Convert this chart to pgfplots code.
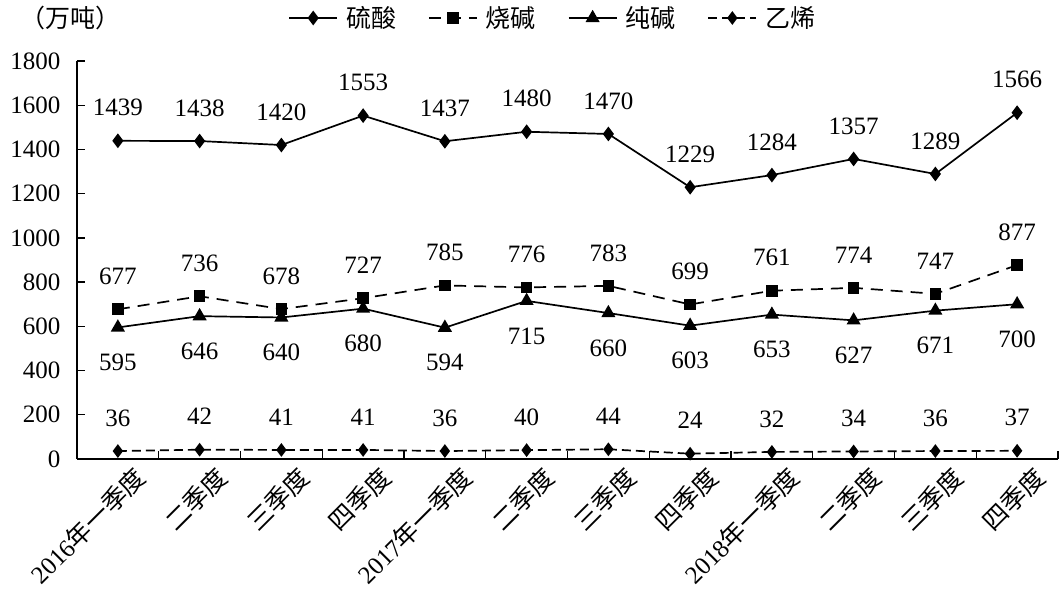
\documentclass[border=0pt]{standalone}
\usepackage{pgfplots}
\pgfplotsset{compat=1.18}
\usepackage{pgfplotstable}
\usepackage{fontspec}
\setmainfont{Liberation Serif}
\newfontfamily\cjk{Noto Sans CJK SC}

% quarterly output, 10k tonnes
\pgfplotstableread{
x  acid  soda  ash  eth
0  1439  677   595  36
1  1438  736   646  42
2  1420  678   640  41
3  1553  727   680  41
4  1437  785   594  36
5  1480  776   715  40
6  1470  783   660  44
7  1229  699   603  24
8  1284  761   653  32
9  1357  774   627  34
10 1289  747   671  36
11 1566  877   700  37
}\quarters

\newcommand\lbl{\fontsize{25}{28}\selectfont}

\begin{document}
\begin{tikzpicture}
\begin{axis}[
    name=ax,
    scale only axis,
    width=981pt, height=398pt,
    xmin=-0.5, xmax=11.5,
    ymin=0, ymax=1800,
    axis x line*=bottom, axis y line*=left,
    axis line style={-, line width=1.3pt},
    tick style={line width=1.3pt, black},
    tick align=inside,
    major tick length=8pt, minor tick length=8pt,
    xtick={0,...,11},
    major x tick style={draw=none},
    minor xtick={0.5,1.5,...,11.5},
    xticklabels={{2016{\cjk 年一季度}},{\cjk 二季度},{\cjk 三季度},{\cjk 四季度},
                 {2017{\cjk 年一季度}},{\cjk 二季度},{\cjk 三季度},{\cjk 四季度},
                 {2018{\cjk 年一季度}},{\cjk 二季度},{\cjk 三季度},{\cjk 四季度}},
    xticklabel style={rotate=45, anchor=east, xshift=10pt, yshift=-26pt},
    ytick={0,200,...,1800},
    yticklabel style={xshift=-13pt},
    tick label style={font=\lbl},
    /pgf/number format/assume math mode=true,
    /pgf/number format/1000 sep={},
    nodes near coords,
    nodes near coords style={font=\lbl, anchor=center},
    legend columns=-1,
    legend style={draw=none, font=\lbl, at={(rel axis cs:0.485,1.108)},
        anchor=center,
        /tikz/every odd column/.append style={column sep=6pt},
        /tikz/every even column/.append style={column sep=30pt}},
    legend image code/.code={\draw[mark repeat=2, mark phase=2]
        plot coordinates {(0pt,0pt) (24pt,0pt) (48pt,0pt)};},
    clip=false,
]
\addplot[black, line width=1.7pt, mark=diamond*, mark size=6pt, mark options={solid},
    every node near coord/.append style={yshift=33pt}]
    table[x=x, y=acid] {\quarters};
\addlegendentry{\cjk 硫酸}
\addplot[black, line width=1.7pt, dash pattern=on 12pt off 8pt,
    mark=square*, mark size=5pt, mark options={solid},
    every node near coord/.append style={yshift=33pt}]
    table[x=x, y=soda] {\quarters};
\addlegendentry{\cjk 烧碱}
\addplot[black, line width=1.7pt, mark=triangle*, mark size=6.5pt, mark options={solid},
    every node near coord/.append style={yshift=-35pt}]
    table[x=x, y=ash] {\quarters};
\addlegendentry{\cjk 纯碱}
\addplot[black, line width=1.7pt, dash pattern=on 9pt off 5pt,
    mark=diamond*, mark size=5.5pt, mark options={solid},
    every node near coord/.append style={yshift=33pt}]
    table[x=x, y=eth] {\quarters};
\addlegendentry{\cjk 乙烯}
\node[font=\lbl, anchor=center] at (rel axis cs:-0.007,1.108) {\cjk （万吨）};
\end{axis}
\pgfresetboundingbox
\path (ax.south west) ++(-77pt,-150pt) rectangle ++(1061pt,609pt);
\end{tikzpicture}
\end{document}
